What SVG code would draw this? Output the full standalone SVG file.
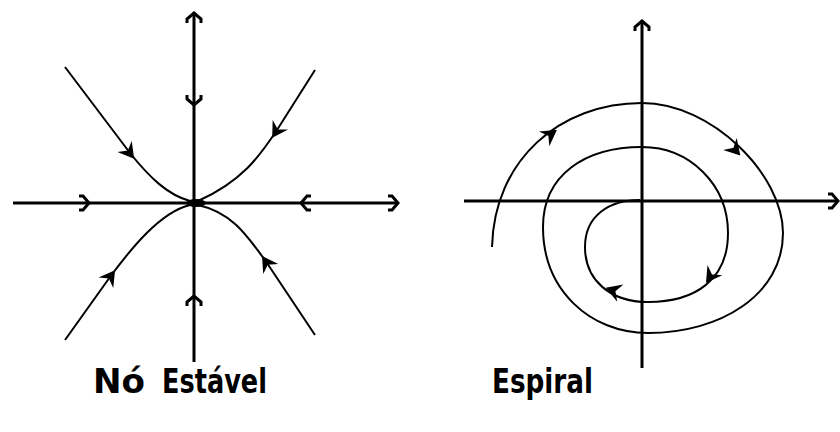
<svg xmlns="http://www.w3.org/2000/svg" width="840" height="432" viewBox="0 0 840 432">
<style>
.axis{stroke:#000;stroke-width:3;fill:none}
.traj{stroke:#000;stroke-width:2;fill:none}
.chev{stroke:#000;stroke-width:3;fill:none;stroke-linejoin:miter}
.head{stroke:#000;stroke-width:1.5;fill:#000}
.lbl{font-family:"Liberation Sans Narrow","DejaVu Sans Condensed","Liberation Sans",sans-serif;font-weight:bold;font-size:33px;fill:#000}
</style>
<defs>
<path id="chev" d="M-10,-7 L-6,-7 L0,0 L-6,7 L-10,7"/>
<path id="head" d="M2,0 L-10,-7 L-6,0 L-10,7 Z"/>
</defs>
<rect width="840" height="432" fill="#fff"/>

<g id="no-estavel">
  <g id="left-connectors">
    <line class="axis" x1="13" y1="203" x2="398" y2="203"/>
    <line class="axis" x1="194" y1="12" x2="194" y2="362"/>
    <path class="traj" d="M65,67 L130,153 C150,178 168,195 190,201"/>
    <path class="traj" d="M315,70 L277,130 C262,152 245,180 198,201"/>
    <path class="traj" d="M65,340 L110,277 C130,250 160,212 190,205"/>
    <path class="traj" d="M315,335 L267,263 C245,232 230,212 198,205"/>
  </g>
  <g id="left-arrows">
    <use href="#chev" class="chev" transform="translate(194,13) rotate(-90)"/>
    <use href="#chev" class="chev" transform="translate(194,105) rotate(90)"/>
    <use href="#chev" class="chev" transform="translate(194,296) rotate(-90)"/>
    <use href="#chev" class="chev" transform="translate(89,203)"/>
    <use href="#chev" class="chev" transform="translate(301,203) rotate(180)"/>
    <use href="#chev" class="chev" transform="translate(398,203)"/>
    <use href="#head" class="head" transform="translate(132,156) rotate(52)"/>
    <use href="#head" class="head" transform="translate(274,135) rotate(122)"/>
    <use href="#head" class="head" transform="translate(113,273) rotate(-54)"/>
    <use href="#head" class="head" transform="translate(264,259) rotate(-124)"/>
  </g>
  <ellipse id="node-point" cx="196" cy="203" rx="10" ry="4" fill="#000"/>
</g>

<g id="espiral">
  <g id="right-connectors">
    <line class="axis" x1="464" y1="201" x2="838" y2="201"/>
    <line class="axis" x1="642" y1="20" x2="642" y2="368"/>
    <path class="traj" d="M492,247 C494,160 560,103 642,103 C712,103 783,175 783,233 C783,295 720,333 648,333 C590,333 543,290 543,227 C543,175 585,147 642,147 C690,147 728,185 728,233 C728,280 695,302 648,302 C610,302 585,280 585,247 C585,215 610,200 640,200"/>
  </g>
  <g id="right-arrows">
    <use href="#chev" class="chev" transform="translate(642,21) rotate(-90)"/>
    <use href="#chev" class="chev" transform="translate(838,201)"/>
    <use href="#head" class="head" transform="translate(554,132) rotate(-35)"/>
    <use href="#head" class="head" transform="translate(738,153) rotate(48)"/>
    <use href="#head" class="head" transform="translate(708,280) rotate(125)"/>
    <use href="#head" class="head" transform="translate(609,289) rotate(200)"/>
  </g>
</g>

<g id="labels">
  <text class="lbl" x="93" y="393" textLength="52" lengthAdjust="spacingAndGlyphs">Nó</text>
  <text class="lbl" x="162" y="393" textLength="105" lengthAdjust="spacingAndGlyphs">Estável</text>
  <text class="lbl" x="492" y="393" textLength="101" lengthAdjust="spacingAndGlyphs">Espiral</text>
</g>
</svg>
